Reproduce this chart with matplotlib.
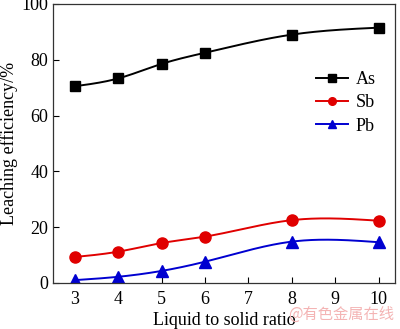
import numpy as np
import matplotlib
matplotlib.use("Agg")
import matplotlib.pyplot as plt

plt.rcParams["font.family"] = ["Liberation Serif", "DejaVu Serif"]
plt.rcParams["mathtext.fontset"] = "stix"

ratio = [3, 4, 5, 6, 8, 10]
as_eff = [70.5, 73.3, 78.5, 82.5, 89.0, 91.5]
sb_eff = [9.3, 11.2, 14.3, 16.6, 22.5, 22.3]
pb_eff = [1.0, 2.2, 4.3, 7.6, 14.8, 14.6]

x_ticks = [3, 4, 5, 6, 7, 8, 9, 10]
y_ticks = [0, 20, 40, 60, 80, 100]


def natural_spline(x, y, n=200):
    # natural cubic spline through the measured points, for the smooth guide line
    x = np.asarray(x, float)
    y = np.asarray(y, float)
    k = len(x)
    h = np.diff(x)
    A = np.zeros((k, k))
    b = np.zeros(k)
    A[0, 0] = A[-1, -1] = 1.0
    for i in range(1, k - 1):
        A[i, i - 1] = h[i - 1]
        A[i, i] = 2 * (h[i - 1] + h[i])
        A[i, i + 1] = h[i]
        b[i] = 3 * ((y[i + 1] - y[i]) / h[i] - (y[i] - y[i - 1]) / h[i - 1])
    c = np.linalg.solve(A, b)
    xs = np.linspace(x[0], x[-1], n)
    idx = np.clip(np.searchsorted(x, xs) - 1, 0, k - 2)
    dx = xs - x[idx]
    bb = (y[idx + 1] - y[idx]) / h[idx] - h[idx] * (2 * c[idx] + c[idx + 1]) / 3
    dd = (c[idx + 1] - c[idx]) / (3 * h[idx])
    return xs, y[idx] + bb * dx + c[idx] * dx ** 2 + dd * dx ** 3


fig = plt.figure(figsize=(4.0, 3.29), dpi=100)
ax = fig.add_axes([0.1325, 0.14, 0.855, 0.848])

series = [
    ("As", as_eff, "black", "s", 7),
    ("Sb", sb_eff, "#e00000", "o", 8),
    ("Pb", pb_eff, "#0000d0", "^", 8),
]
for name, vals, col, mk, ms in series:
    xs, ys = natural_spline(ratio, vals)
    ax.plot(xs, ys, color=col, lw=1.4)
    ax.plot(ratio, vals, ls="none", marker=mk, ms=ms, color=col,
            markeredgecolor=col)
    ax.plot([], [], color=col, lw=1.4, marker=mk, ms=5.5, label=name)

ax.set_xlim(2.5, 10.38)
ax.set_ylim(0, 100)
ax.set_xticks(x_ticks)
ax.set_yticks(y_ticks)
ax.tick_params(direction="in", labelsize=13, length=4, width=0.8)
ax.tick_params(axis="x", pad=6)
for s in ax.spines.values():
    s.set_linewidth(0.9)
    s.set_color("#333333")

ax.set_xlabel("Liquid to solid ratio", fontsize=13, labelpad=3)
ax.set_ylabel("Leaching efficiency/%", fontsize=13, labelpad=2)

leg = ax.legend(loc="center right", bbox_to_anchor=(0.99, 0.645),
                frameon=False, fontsize=13, handlelength=1.8,
                handletextpad=0.4, labelspacing=0.35)

fig.text(0.985, 0.02, "@有色金属在线", color="#f4b4b4", fontsize=11,
         ha="right", va="bottom",
         family=["Noto Sans CJK SC", "DejaVu Sans"])

fig.savefig("out.png", dpi=100)
